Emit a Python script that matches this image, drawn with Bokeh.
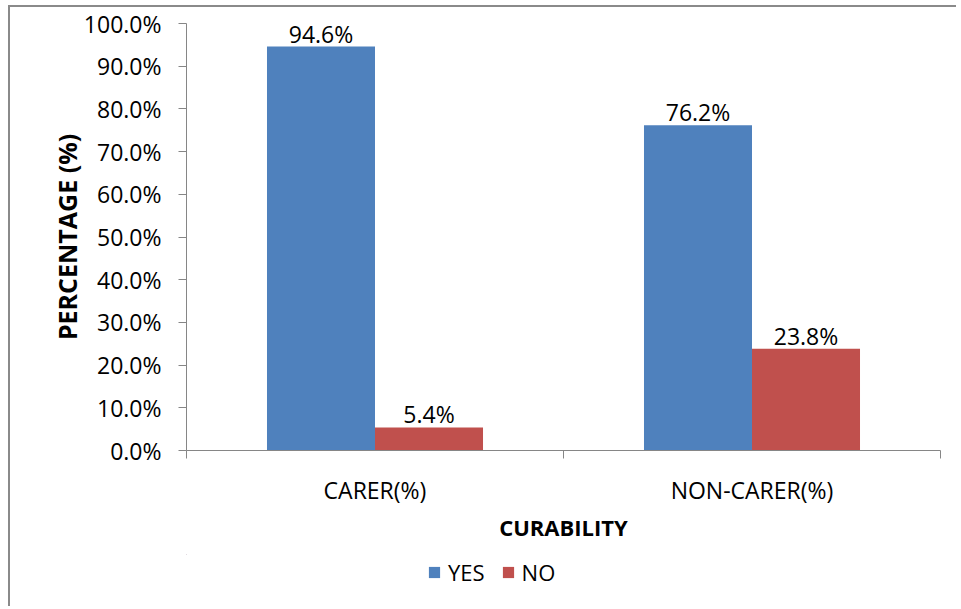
from bokeh.plotting import figure
from bokeh.layouts import column
from bokeh.models import (ColumnDataSource, Range1d, FixedTicker, PrintfTickFormatter,
                          LabelSet, Legend, LegendItem)
from bokeh.core.properties import value
from bokeh.embed import file_html
from bokeh.resources import INLINE

categories = ["CARER(%)", "NON-CARER(%)"]
series = ["YES", "NO"]
yes_values = [94.6, 76.2]
no_values = [5.4, 23.8]
y_ticks = [0, 10, 20, 30, 40, 50, 60, 70, 80, 90, 100]
colors = {"YES": "#4F81BD", "NO": "#C0504D"}

FONT = "Open Sans"
AXIS_COL = "#868686"
BORDER = "2px solid #8a8a8a"
BAR_W = 0.2865

p = figure(width=948, height=549, output_backend="svg", toolbar_location=None,
           x_range=Range1d(0, len(categories)), y_range=Range1d(0, 100),
           min_border_left=176, min_border_right=18, min_border_top=16,
           min_border_bottom=106)
p.margin = (5, 0, 0, 8)
p.styles = {"border-top": BORDER, "border-left": BORDER}
p.outline_line_color = None
p.grid.visible = False

sources = {}
for s, vals, off in [("YES", yes_values, -BAR_W / 2), ("NO", no_values, BAR_W / 2)]:
    xs = [i + 0.5 + off for i in range(len(categories))]
    src = ColumnDataSource(dict(x=xs, top=vals, text=[f"{v:.1f}%" for v in vals]))
    sources[s] = src
    p.vbar(x="x", top="top", width=BAR_W, bottom=0, source=src,
           fill_color=colors[s], line_color=None)
    p.add_layout(LabelSet(x="x", y="top", text="text", source=src, y_offset=4,
                          text_align="center", text_baseline="alphabetic",
                          text_font=value(FONT), text_font_size="23px",
                          text_color="#000000"))

# y axis
p.yaxis.ticker = FixedTicker(ticks=y_ticks)
p.yaxis.formatter = PrintfTickFormatter(format="%.1f%%")
p.yaxis.major_label_text_font = FONT
p.yaxis.major_label_text_font_size = "23px"
p.yaxis.major_label_text_color = "#000000"
p.yaxis.major_tick_out = 8
p.yaxis.major_tick_in = 0
p.yaxis.minor_tick_line_color = None
p.yaxis.axis_line_color = AXIS_COL
p.yaxis.major_tick_line_color = AXIS_COL
p.yaxis.major_label_standoff = 17
p.yaxis.axis_label = "PERCENTAGE (%)"
p.yaxis.axis_label_text_font = FONT
p.yaxis.axis_label_text_font_style = "bold"
p.yaxis.axis_label_text_font_size = "25px"
p.yaxis.axis_label_text_color = "#000000"
p.yaxis.axis_label_standoff = -3

# x axis
p.xaxis.ticker = FixedTicker(ticks=[i + 0.5 for i in range(len(categories))],
                             minor_ticks=list(range(len(categories) + 1)))
p.xaxis.major_label_overrides = {i + 0.5: c for i, c in enumerate(categories)}
p.xaxis.major_tick_out = 0
p.xaxis.major_tick_in = 0
p.xaxis.minor_tick_out = 8
p.xaxis.minor_tick_in = 0
p.xaxis.minor_tick_line_color = AXIS_COL
p.xaxis.axis_line_color = AXIS_COL
p.xaxis.major_label_text_font = FONT
p.xaxis.major_label_text_font_size = "23px"
p.xaxis.major_label_text_color = "#000000"
p.xaxis.major_label_standoff = 15
p.xaxis.axis_label = "CURABILITY"
p.xaxis.axis_label_text_font = FONT
p.xaxis.axis_label_text_font_style = "bold"
p.xaxis.axis_label_text_font_size = "22px"
p.xaxis.axis_label_text_color = "#000000"
p.xaxis.axis_label_standoff = 3

# legend strip (its bars lie outside its view; only their legend glyphs show)
p2 = figure(width=948, height=52, output_backend="svg", toolbar_location=None,
            x_range=Range1d(100, 101), y_range=Range1d(-2, -1),
            x_axis_type=None, y_axis_type=None,
            min_border_left=16, min_border_right=0, min_border_top=0,
            min_border_bottom=16)
p2.margin = (0, 0, 0, 8)
p2.styles = {"border-left": BORDER}
p2.outline_line_color = None
p2.grid.visible = False
items = []
for s in series:
    r = p2.vbar(x="x", top="top", width=BAR_W, source=sources[s],
                fill_color=colors[s], line_color=None)
    items.append(LegendItem(label=s, renderers=[r]))
legend = Legend(items=items, orientation="horizontal", location="left",
                glyph_width=14, glyph_height=14, label_text_font=FONT,
                label_text_font_size="22px", label_text_color="#000000",
                padding=0, margin=241, spacing=16, label_standoff=7,
                border_line_color=None, background_fill_alpha=0)
p2.add_layout(legend, "center")

layout = column(p, p2, spacing=0)
open("out.html", "w").write(file_html(layout, INLINE))
